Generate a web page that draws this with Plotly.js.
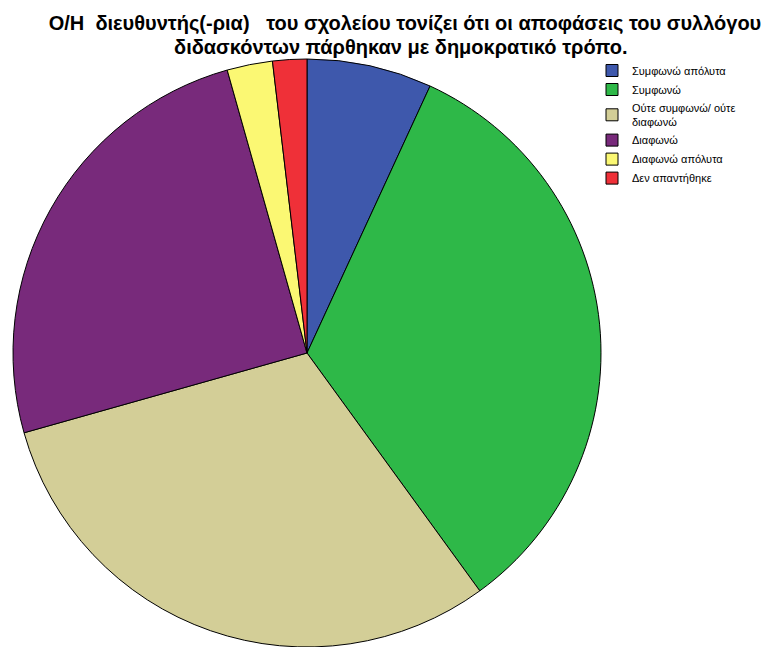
<!DOCTYPE html>
<html>
<head>
<meta charset="utf-8">
<script src="https://cdn.plot.ly/plotly-3.0.1.min.js"></script>
<style>html,body{margin:0;padding:0;background:#fff;}#chart{width:778px;height:647px;}</style>
</head>
<body>
<div id="chart"></div>
<script>
const categories = ["Συμφωνώ απόλυτα", "Συμφωνώ", "Ούτε συμφωνώ/ ούτε<br>διαφωνώ", "Διαφωνώ", "Διαφωνώ απόλυτα", "Δεν απαντήθηκε"];
const counts = [11, 53, 49, 40, 4, 3];
const colors = ["#3e58ac", "#2eb848", "#d3ce97", "#782a7b", "#fbf873", "#ef3038"];
const titleLine1 = "Ο/Η  διευθυντής(-ρια)   του σχολείου τονίζει ότι οι αποφάσεις του συλλόγου";
const titleLine2 = "διδασκόντων πάρθηκαν με δημοκρατικό τρόπο.";

const FONT = "Liberation Sans, Arial, sans-serif";

const data = [{
  type: "pie",
  labels: categories,
  values: counts,
  sort: false,
  direction: "clockwise",
  rotation: 0,
  textinfo: "none",
  marker: {colors: colors, line: {color: "#000000", width: 1}},
  domain: {x: [13/778, 601/778], y: [0, 588/647]}
}];

const layout = {
  width: 778, height: 647,
  margin: {l: 0, r: 0, t: 0, b: 0},
  paper_bgcolor: "#ffffff",
  font: {family: FONT, color: "#000"},
  title: {
    text: "<b>" + titleLine1 + "</b>",
    font: {family: FONT, size: 20, color: "#000"},
    x: 405/778, xanchor: "center", xref: "container",
    y: 1 - 23/647, yanchor: "middle", yref: "container"
  },
  annotations: [{
    text: "<b>" + titleLine2 + "</b>",
    font: {family: FONT, size: 20, color: "#000"},
    x: 401/778, xanchor: "center", xref: "paper",
    y: 1 - 47/647, yanchor: "middle", yref: "paper",
    showarrow: false
  }],
  showlegend: true,
  legend: {
    x: 592/778, xanchor: "left",
    y: 1 - 56/647, yanchor: "top",
    font: {family: FONT, size: 11, color: "#000"},
    itemwidth: 30,
    tracegroupgap: 0,
    bgcolor: "rgba(0,0,0,0)"
  }
};

Plotly.newPlot("chart", data, layout, {displayModeBar: false, staticPlot: true});
</script>
</body>
</html>
